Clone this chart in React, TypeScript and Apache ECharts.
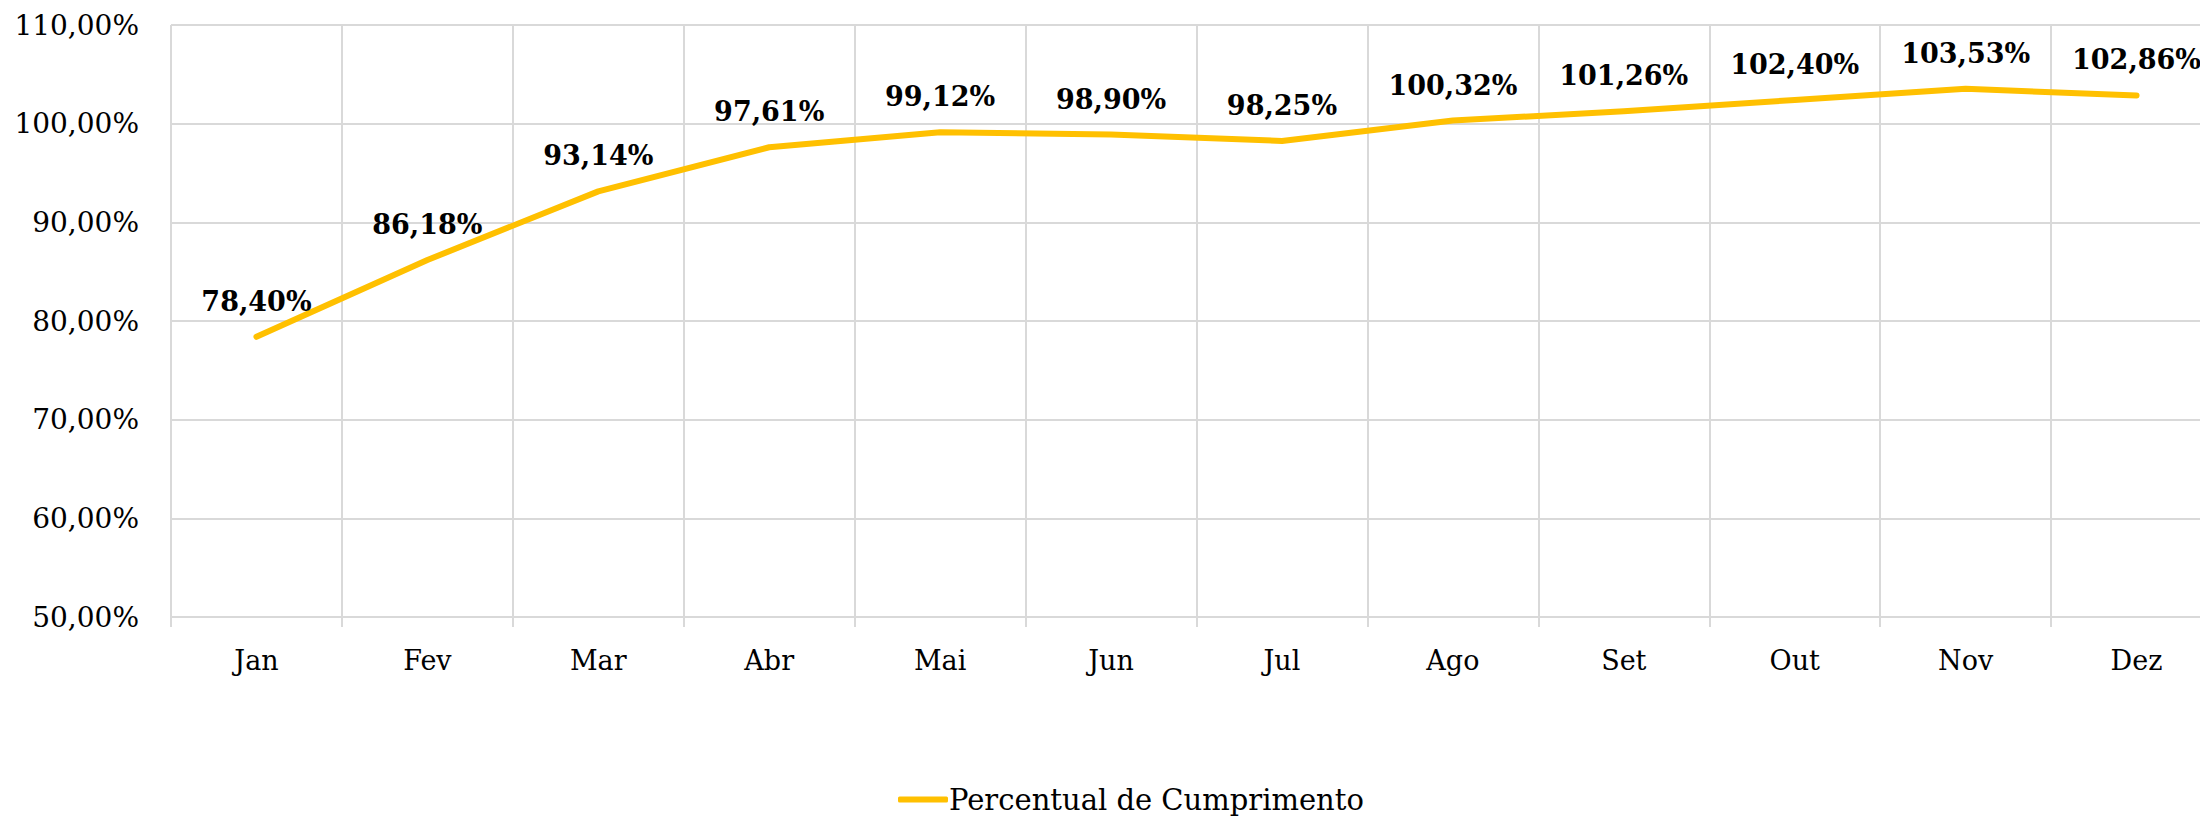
import React, { useEffect, useRef } from "react";
import * as echarts from "echarts";

const months = ["Jan", "Fev", "Mar", "Abr", "Mai", "Jun", "Jul", "Ago", "Set", "Out", "Nov", "Dez"];
const percentual = [78.4, 86.18, 93.14, 97.61, 99.12, 98.9, 98.25, 100.32, 101.26, 102.4, 103.53, 102.86];
const seriesName = "Percentual de Cumprimento";

const fmt = (v: number) => v.toFixed(2).replace(".", ",") + "%";
const FONT = "'DejaVu Serif', serif";

export default function App() {
  const ref = useRef<HTMLDivElement>(null);
  useEffect(() => {
    document.body.style.margin = "0";
    const chart = echarts.init(ref.current!, null, { renderer: "svg" });
    chart.setOption({
      animation: false,
      backgroundColor: "#ffffff",
      grid: { left: 171, top: 25, right: 18, height: 592, containLabel: false },
      legend: {
        data: [seriesName],
        bottom: 2,
        left: 898,
        padding: 0,
        itemWidth: 50,
        itemHeight: 6,
        itemGap: 0,
        icon: "roundRect",
        textStyle: { fontFamily: FONT, fontSize: 29, color: "#000", padding: [0, 0, 0, -4] },
      },
      xAxis: {
        type: "category",
        data: months,
        boundaryGap: true,
        axisLine: { show: true, lineStyle: { color: "#d9d9d9", width: 2 } },
        axisTick: { show: true, length: 10, lineStyle: { color: "#d9d9d9", width: 2 } },
        splitLine: { show: true, lineStyle: { color: "#d9d9d9", width: 2 } },
        axisLabel: { fontFamily: FONT, fontSize: 27, color: "#000", margin: 30 },
      },
      yAxis: {
        type: "value",
        min: 50,
        max: 110,
        interval: 10,
        axisLine: { show: false },
        axisTick: { show: false },
        splitLine: { show: true, lineStyle: { color: "#d9d9d9", width: 2 } },
        axisLabel: { fontFamily: FONT, fontSize: 28, color: "#000", margin: 32, formatter: (v: number) => fmt(v) },
      },
      series: [
        {
          name: seriesName,
          type: "line",
          data: percentual,
          symbol: "circle",
          symbolSize: 0.01,
          showSymbol: true,
          lineStyle: { color: "#FFC000", width: 6, cap: "round", join: "round" },
          itemStyle: { color: "#FFC000" },
          label: {
            show: true,
            position: "top",
            distance: 22,
            fontFamily: FONT,
            fontWeight: "bold",
            fontSize: 27,
            color: "#000",
            formatter: (p: any) => fmt(p.value),
          },
        },
      ],
    });
    return () => chart.dispose();
  }, []);
  return (
    <div style={{ position: "absolute", left: 0, top: 0, width: 2200, height: 816, overflow: "hidden" }}>
      <div ref={ref} style={{ width: 2240, height: 816 }} />
    </div>
  );
}
